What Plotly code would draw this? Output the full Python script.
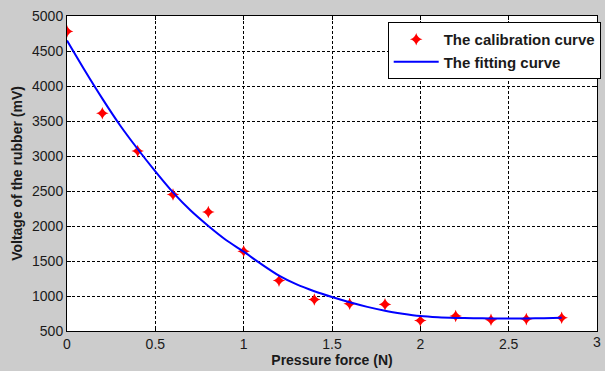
import plotly.graph_objects as go

# Calibration data
force_pts = [0, 0.2, 0.4, 0.6, 0.8, 1.0, 1.2, 1.4, 1.6, 1.8, 2.0, 2.2, 2.4, 2.6, 2.8]
voltage_pts = [4780, 3610, 3070, 2450, 2200, 1640, 1220, 950, 890, 880, 650, 715, 660, 670, 690]

# Fitting curve
force_fit = [0, 0.1, 0.2, 0.3, 0.4, 0.5, 0.6, 0.7, 0.8, 0.9, 1.0, 1.1, 1.2, 1.3, 1.4,
             1.5, 1.6, 1.7, 1.8, 1.9, 2.0, 2.1, 2.2, 2.3, 2.4, 2.5, 2.6, 2.7, 2.8]
voltage_fit = [4650, 4225, 3820, 3440, 3100, 2780, 2480, 2220, 2000, 1800, 1633, 1455, 1290,
               1165, 1068, 985, 910, 845, 790, 748, 715, 697, 687, 682, 680, 679, 680, 683, 690]

x_ticks = [0, 0.5, 1, 1.5, 2, 2.5, 3]
x_tick_text = ["0", "0.5", "1", "1.5", "2", "2.5", "3"]
y_ticks = [500, 1000, 1500, 2000, 2500, 3000, 3500, 4000, 4500, 5000]

FONT = "Liberation Sans, Arial, sans-serif"

fig = go.Figure()
fig.add_trace(go.Scatter(
    x=force_pts, y=voltage_pts, mode="markers", name="The calibration curve",
    marker=dict(symbol="star-diamond", size=9, color="#ff0000", line=dict(width=0)),
))
fig.add_trace(go.Scatter(
    x=force_fit, y=voltage_fit, mode="lines", name="The fitting curve",
    line=dict(color="#0000ff", width=2, shape="spline", smoothing=0.6),
))

axis_common = dict(
    showline=True, linecolor="#000000", linewidth=1, mirror="ticks",
    ticks="inside", ticklen=4, tickcolor="#000000",
    showgrid=True, gridcolor="#000000", gridwidth=1, griddash="3px,2px",
    zeroline=False, automargin=False,
    tickfont=dict(family=FONT, size=14, color="#1a1a1a"),
)

fig.update_layout(
    width=605, height=371,
    margin=dict(l=67, r=4, t=16, b=40),
    paper_bgcolor="#cccccc", plot_bgcolor="#ffffff",
    showlegend=True,
    legend=dict(
        x=1.007, xanchor="right", y=0.981, yanchor="top",
        bgcolor="#ffffff", bordercolor="#000000", borderwidth=1,
        font=dict(family=FONT, size=15, color="#1a1a1a", weight="bold"),
        itemwidth=45, tracegroupgap=0,
    ),
    xaxis=dict(
        range=[0, 3], tickvals=x_ticks,
        # last label is drawn separately below (it touches the page edge)
        ticktext=x_tick_text[:-1] + [""],
        title=dict(text="<b>Pressure force (N)</b>", standoff=2,
                   font=dict(family=FONT, size=14, color="#1a1a1a")),
        **axis_common,
    ),
    yaxis=dict(
        range=[500, 5000], tickvals=y_ticks,
        title=dict(text="<b>Voltage of the rubber (mV)</b>", standoff=6,
                   font=dict(family=FONT, size=14, color="#1a1a1a")),
        **axis_common,
    ),
)

fig.add_annotation(
    x=x_ticks[-1], xref="x", y=0, yref="paper", yanchor="top", yshift=-1, xanchor="center",
    text=x_tick_text[-1], showarrow=False,
    font=dict(family=FONT, size=14, color="#1a1a1a"),
)

fig.write_html(
    "out.html",
    config={"displayModeBar": False},
    post_script="document.body.style.margin='0';document.body.style.background='#cccccc';",
)
